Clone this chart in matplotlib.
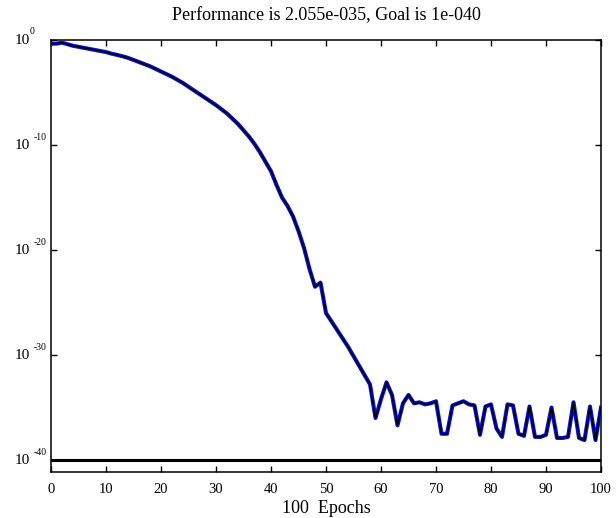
import numpy as np
import matplotlib
matplotlib.use("Agg")
import matplotlib.pyplot as plt
import matplotlib.transforms as mtransforms
from matplotlib.ticker import FixedLocator, NullFormatter

plt.rcParams['font.family'] = ['Liberation Serif', 'DejaVu Serif']

epochs = list(range(0, 101))
log_perf = [
    -0.35, -0.35, -0.25, -0.40, -0.55, -0.65, -0.75, -0.85, -0.95, -1.05,
    -1.15, -1.30, -1.42, -1.55, -1.70, -1.90, -2.10, -2.30, -2.50, -2.75,
    -3.00, -3.25, -3.50, -3.80, -4.10, -4.45, -4.80, -5.15, -5.50, -5.85,
    -6.20, -6.60, -7.00, -7.50, -8.00, -8.60, -9.20, -9.90, -10.70, -11.60,
    -12.50, -13.80, -15.00, -15.80, -16.80, -18.20, -19.80, -21.80, -23.50, -23.10,
    -26.00, -26.80, -27.60, -28.40, -29.20, -30.10, -31.00, -31.90, -32.80, -36.00,
    -34.20, -32.60, -33.80, -36.70, -34.60, -33.80, -34.60, -34.50, -34.70, -34.60,
    -34.40, -37.50, -37.50, -34.80, -34.60, -34.40, -34.70, -34.80, -37.60, -34.90,
    -34.70, -37.00, -37.80, -34.70, -34.80, -37.50, -37.70, -34.90, -37.80, -37.80,
    -37.60, -35.00, -37.90, -37.90, -37.80, -34.50, -37.90, -38.10, -34.90, -38.10,
    -35.00,
]
performance = [10.0 ** v for v in log_perf]
goal = 1e-40
title_text = "Performance is 2.055e-035, Goal is 1e-040"
xlabel_text = "100  Epochs"
xticks = list(range(0, 101, 10))
yticks_exp = [0, -10, -20, -30, -40]
ytick_base = "10"

fig = plt.figure(figsize=(6.16, 5.18), dpi=100)
ax = fig.add_axes([51/616, 1 - 472/518, 550/616, 432/518])

ax.semilogy(epochs, performance, color='#0010ee', lw=2.9, solid_joinstyle='round', zorder=3)
ax.semilogy(epochs, performance, color='black', lw=1.2, solid_joinstyle='round', zorder=4)
ax.axhline(goal, color='black', lw=2.2, zorder=5)

ax.set_xlim(0, 100)
ax.set_ylim(10 ** -41.14, 1.0)

ax.xaxis.set_major_locator(FixedLocator(xticks))
ax.yaxis.set_major_locator(FixedLocator([10.0 ** e for e in yticks_exp]))
ax.yaxis.set_minor_locator(FixedLocator([]))
ax.xaxis.set_minor_locator(FixedLocator([]))
ax.yaxis.set_major_formatter(NullFormatter())
ax.yaxis.set_minor_formatter(NullFormatter())
ax.tick_params(axis='both', which='major', direction='in', length=4.5, width=1.0,
               top=True, right=True, labelsize=10.5)
ax.tick_params(axis='x', pad=8)
for s in ax.spines.values():
    s.set_linewidth(1.1)

# MATLAB-style y tick labels: "10" with a raised small exponent
blend = mtransforms.blended_transform_factory(fig.transFigure, ax.transData)
for e in yticks_exp:
    yv = 10.0 ** e
    ax.text(15/616, yv, ytick_base, transform=blend, ha='left', va='center',
            fontsize=11, clip_on=False)
    off = mtransforms.ScaledTranslation(0, 5.5/100, fig.dpi_scale_trans)
    exp_x = 30/616 if e == 0 else 34/616
    ax.text(exp_x, yv, str(e), transform=blend + off, ha='left', va='baseline',
            fontsize=7, clip_on=False)

ax.set_title(title_text, fontsize=13, pad=14)
ax.set_xlabel(xlabel_text, fontsize=13, labelpad=3)

fig.savefig('out.png', dpi=100)
